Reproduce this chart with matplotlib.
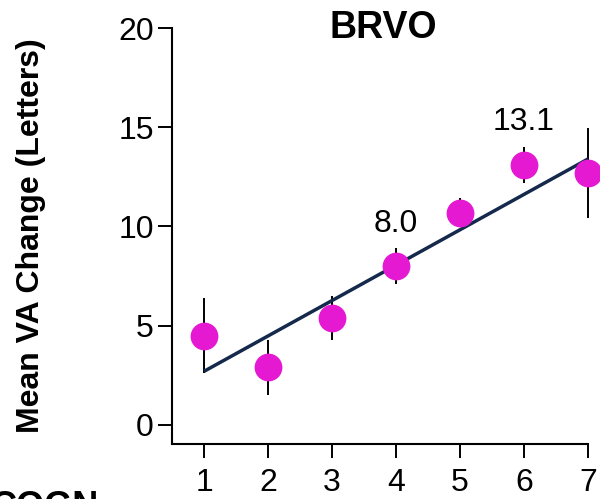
import matplotlib
matplotlib.use("Agg")
import matplotlib.pyplot as plt

plt.rcParams['font.family'] = ['Liberation Sans', 'DejaVu Sans']

months = [1, 2, 3, 4, 5, 6, 7]
mean_change = [4.5, 2.9, 5.4, 8.0, 10.7, 13.1, 12.7]
err = [1.9, 1.4, 1.1, 0.9, 0.75, 0.9, 2.25]
trend_x = [1, 7]
trend_y = [2.7, 13.4]
labelled = {4: "8.0", 6: "13.1"}
yticks = [0, 5, 10, 15, 20]

W, H = 600, 499
fig = plt.figure(figsize=(W/100, H/100), dpi=100)
ax = fig.add_axes([172/W, (H-444)/H, (588-172)/W, (444-28)/H])

ax.plot(trend_x, trend_y, color='#14294b', lw=2.5, zorder=2, solid_capstyle='butt')
ax.errorbar(months, mean_change, yerr=err, fmt='none', ecolor='black', elinewidth=1.4, zorder=1, clip_on=False)
ax.plot(months, mean_change, 'o', ms=20, color='#E619D3', mec='none', zorder=3, clip_on=False)

for i, m in enumerate(months):
    if m in labelled:
        ax.annotate(labelled[m], (m, mean_change[i] + err[i]), xytext=(0, 7),
                    textcoords='offset points', ha='center', va='bottom', fontsize=23)

ax.set_xlim(0.5, 7)
ax.set_ylim(-0.96, 20)
ax.set_xticks(months)
ax.set_yticks(yticks)
ax.tick_params(labelsize=23, width=1.4, length=10, color='black')
ax.tick_params(axis='x', pad=7)
ax.tick_params(axis='y', pad=3)
for s in ['top', 'right']:
    ax.spines[s].set_visible(False)
for s in ['left', 'bottom']:
    ax.spines[s].set_linewidth(1.5)
ax.spines['left'].set_bounds(-0.96, 20)

ax.set_ylabel('Mean VA Change (Letters)', fontsize=23, fontweight='bold')
ax.yaxis.set_label_coords(-0.303, 0.5)
fig.text(383/W, 1-38/H, 'BRVO', ha='center', va='baseline', fontsize=27, fontweight='bold')
fig.text(-10/W, 1-490/H, 'COGN', ha='left', va='top', fontsize=26, fontweight='bold')

fig.savefig('out.png', dpi=100)
